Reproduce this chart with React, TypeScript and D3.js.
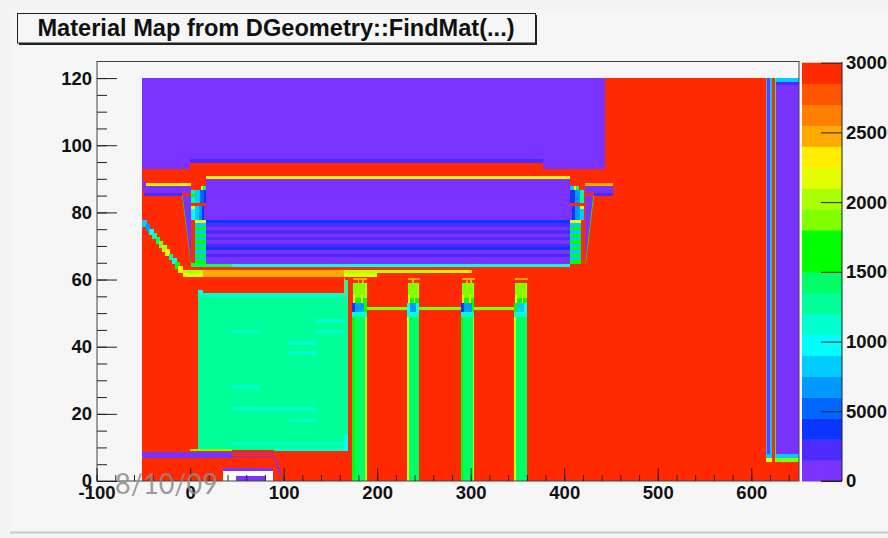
import * as React from 'react';
import * as d3 from 'd3';

type Block = [number, number, number, number, number]; // x0, x1, y0, y1, value

const width = 888;
const height = 538;

const paletteColors = [
  '#7a33ff', '#4d2bff', '#0a35ff', '#0066ff', '#0099ff', '#00ccff', '#00ffff', '#00ffcc', '#00ff99', '#00ff66',
  '#00ff00', '#00ff00', '#80ff00', '#aaff00', '#e6ff00', '#ffee00', '#ffaa00', '#ff8000', '#ff5500', '#ff2a00',
];
const xTicks = [-100, 0, 100, 200, 300, 400, 500, 600];
const yTicks = [0, 20, 40, 60, 80, 100, 120];
const zTicks = [0, 5000, 10000, 15000, 20000, 25000, 30000];

// big shapes, painted in this order
const baseBlocks: Block[] = [
  [-51, 651, 0, 120, 29250],
  [-51, 444, 92.9, 120, 750],
  [0, 377.5, 94.8, 95.9, 2250],
  [0, 377.5, 92.9, 94.8, 29250],
  [16.8, 406.4, 89.8, 90.8, 23250],
  [16.8, 406.4, 77.7, 89.8, 750],
  [-47.5, 1, 87.9, 88.8, 23250],
  [-47.5, 1, 85.9, 87.9, 750],
  [-49, -8.2, 84.9, 85.9, 2250],
  [422.5, 452, 87.9, 88.8, 24750],
  [422.5, 452, 85.9, 87.9, 750],
  [431.5, 452, 84.9, 85.9, 2250],
];

// rows of the stack under the big purple box, top to bottom
const stackRows = [3750, 2250, 750, 2250, 750, 2250, 750, 2250, 3750, 750, 2250, 750, 750];
const stackTop = 77.7;

// end pieces either side of the box
const sideBlocks: Block[] = [
  [14, 16.8, 86.7, 87.9, 14250],
  [12, 14, 86.7, 87.9, 23250],
  [1, 5.3, 82.8, 86.7, 12750],
  [1, 5.3, 84.6, 85.4, 15750],
  [5.3, 11, 82.8, 86.7, 8250],
  [11, 15, 82.8, 86.7, 5250],
  [15, 16.8, 82.8, 86.7, 3750],
  [1, 5, 77.7, 81.9, 9750],
  [1, 5, 80.9, 81.9, 21750],
  [5, 9.5, 77.7, 81.9, 8250],
  [9.5, 13, 77.7, 81.9, 6750],
  [13, 15, 77.7, 81.9, 3750],
  [15, 16.8, 77.7, 81.9, 750],
  [406.4, 408, 77.7, 81.9, 750],
  [408, 411, 77.7, 81.9, 3750],
  [411, 417, 77.7, 81.9, 6750],
  [417, 421, 77.7, 81.9, 8250],
  [417, 421, 80.9, 81.9, 21750],
  [406.4, 411, 82.8, 86.7, 3750],
  [411, 417, 82.8, 86.7, 6750],
  [417, 420.8, 82.8, 86.7, 12750],
  [406.4, 410, 86.7, 87.9, 8250],
  [410, 413, 86.7, 87.9, 23250],
  [413, 416, 86.7, 87.9, 14250],
  [1, 44.6, 63.8, 64.8, 14250],
  [44.6, 406.4, 63.8, 64.8, 9750],
];
const sideStripeValues = [21750, 8250, 15750, 8250, 15750, 8250, 15750, 8250, 15750, 8250, 15750, 8250, 15750];
const sideStripeLeft = [5.3, 406.4];
const sideStripeRight = [16.8, 417.8];

// the long plates at y about 60
const plateBlocks: Block[] = [
  [-7.5, 13.9, 61.9, 62.8, 20250],
  [-7.5, 13.9, 60.7, 61.9, 21750],
  [13.9, 164.7, 60.7, 62.8, 24750],
  [164.7, 258.8, 61.9, 62.8, 19500],
  [258.8, 301.3, 61.9, 62.8, 23250],
  [164.7, 200, 60.7, 61.9, 21750],
];

// the big green volume and its thin layers
const volumeBlocks: Block[] = [
  [8, 14, 54.9, 56.9, 9750],
  [8, 164.7, 54.9, 55.9, 11250],
  [8, 169, 9.2, 54.9, 12750],
  [164.7, 169, 54.9, 59.9, 11250],
  [164.7, 166, 54.9, 60.5, 24750],
  [133, 164.7, 47, 48.2, 11250],
  [44.6, 74.1, 44, 45, 11250],
  [133, 164.7, 44, 45, 11250],
  [104.5, 134.8, 40.5, 41.6, 11250],
  [104.5, 134.8, 37.6, 38.6, 11250],
  [44.6, 74.1, 27.5, 28.5, 11250],
  [44.6, 134.8, 20.8, 22, 11250],
  [104.5, 134.8, 17.5, 18.5, 11250],
  [44.6, 164.7, 10.6, 11.7, 11250],
  [89.8, 168, 9, 9.8, 11250],
  [164.7, 168.5, 9, 13.8, 9750],
  [0, 44.6, 8.8, 9.4, 18750],
  [-51, 44.6, 6.8, 8.7, 750],
  [44.6, 89.8, 8.2, 8.7, 750],
  [44.6, 89.8, 7, 7.5, 750],
  [35, 89, 3, 3.8, 750],
  [35, 89, 0, 3, -1],
  [49.2, 80.2, 0, 1.4, 750],
];

// the four packages
const packageLeft = [173.6, 232, 289.8, 346.2];
const packageRight = [188.6, 244.9, 304, 360.4];
const packageEdge = [15750, 21750, 15750, 21750];
const packageFarEdge = [20250, 14250, 20250, 14250];
const packageCoreLeft = [3750, 9750, 3750, 15750];
const packageCore = [6750, 6750, 6750, 8250];
const packageCoreRight = [15750, 9750, 15750, 9750];
const packageStems = [2, 1, 2, 0];

// the stepped diagonal at the left
const diagonalX = [-51, -47.5, -44, -40.5, -37, -33.5, -30, -26.5, -23, -19.5, -16, -12.5];
const diagonalY = [77.7, 76.5, 75.2, 74, 72.7, 71.5, 70.2, 69, 67.7, 66.5, 65.2, 64];
const diagonalValues = [8250, 6750, 9750, 12750, 14250, 18750, 20250, 21750, 12750, 9750, 15750, 23250];

// slanted pieces
const wedges: { points: [number, number][]; value: number }[] = [
  { points: [[-8.6, 84.9], [-7.6, 84.9], [1.2, 64.8], [0.6, 64.8]], value: 15750 },
  { points: [[-7.8, 84.9], [1, 84.9], [1, 65]], value: 750 },
  { points: [[430.6, 84.9], [431.8, 84.9], [423.2, 64.8], [422.4, 64.8]], value: 15750 },
  { points: [[422.5, 84.9], [430.8, 84.9], [422.5, 65]], value: 750 },
  { points: [[-51, 90.5], [-47.5, 88.8], [-47.5, 85.9], [-51, 85.9]], value: 750 },
  { points: [[89.8, 7], [91.5, 7], [98, 1.6], [96, 1.6]], value: 750 },
];

// far right columns
const rightBlocks: Block[] = [
  [615.3, 617, 6.8, 120, 8250],
  [617, 620.3, 8, 120, 750],
  [617, 620.3, 6.8, 8, 8250],
  [620.3, 622.1, 6.8, 120, 8250],
  [625.7, 626.7, 6.8, 120, 12750],
  [626.7, 651, 8, 120, 750],
  [626.7, 651, 118.8, 120, 8250],
  [626.7, 651, 117.9, 118.8, 2250],
  [626.7, 651, 6.8, 8, 8250],
  [625.7, 651, 5.7, 6.8, 18750],
  [615.3, 622.1, 5.7, 6.8, 21750],
];

function packageBlocks(): Block[] {
  const blocks: Block[] = [];
  packageLeft.forEach((x0, i) => {
    const x1 = packageRight[i];
    blocks.push([x0, x1, 0, 50, 14250]);
    blocks.push([x0, x0 + 2.2, 0, 50, packageEdge[i]]);
    blocks.push([x1 - 1.2, x1, 0, 50, packageFarEdge[i]]);
    blocks.push([x0, x1, 48.9, 50.2, 11250]);
    blocks.push([x0 + 1, x1, 54.4, 59, 18750]);
    blocks.push([x1 - 1.4, x1, 54.4, 59, 20250]);
    blocks.push([x0 + 1, x1, 52.9, 54.4, 15750]);
    blocks.push([x0 + 1, x0 + 3, 52.9, 55.4, 23250]);
    blocks.push([x1 - 6, x1 - 4, 52.9, 55.4, 23250]);
    blocks.push([x0, x0 + 3, 50.2, 52.9, packageCoreLeft[i]]);
    blocks.push([x0 + 3, x1 - 3, 50.2, 52.9, packageCore[i]]);
    blocks.push([x1 - 3, x1, 50.2, 52.9, packageCoreRight[i]]);
    blocks.push([x0 + 1, x1 + 0.5, 60, 60.5, 24750]);
    if (packageStems[i] > 0) blocks.push([x0 + 5.5, x0 + 7, 59, 60, 24750]);
    if (packageStems[i] > 1) blocks.push([x1 - 4.5, x1 - 3, 59, 60, 24750]);
    if (i < packageLeft.length - 1) blocks.push([x1, packageLeft[i + 1], 50.9, 51.9, 19000]);
  });
  return blocks;
}

function stackBlocks(): Block[] {
  const blocks: Block[] = [];
  stackRows.forEach((value, i) => {
    blocks.push([16.8, 406.4, stackTop - i - 1, stackTop - i, value]);
  });
  sideStripeLeft.forEach((x0, s) => {
    sideStripeValues.forEach((value, i) => {
      blocks.push([x0, sideStripeRight[s], stackTop - i - 1, stackTop - i, value]);
    });
  });
  return blocks;
}

function diagonalBlocks(): Block[] {
  return diagonalValues.map((value, i): Block => [
    diagonalX[i], diagonalX[i] + 5, diagonalY[i] - 2, diagonalY[i], value,
  ]);
}

const App = () => {
  const ref = React.useRef<SVGSVGElement>(null);

  React.useEffect(() => {
    const svg = d3.select(ref.current);
    svg.selectAll('*').remove();

    const x = d3.scaleLinear().domain([-100, 651]).range([96.6, 799]);
    const y = d3.scaleLinear().domain([0, 125]).range([481, 61.3]);
    const z = d3.scaleLinear().domain([0, 30000]).range([481, 62.7]);
    const color = d3.scaleQuantize<string>().domain([0, 30000]).range(paletteColors);

    svg.append('defs').append('filter')
      .attr('id', 'soft')
      .append('feGaussianBlur')
      .attr('stdDeviation', 0.5);

    svg.append('rect').attr('width', width).attr('height', height).attr('fill', '#f4f4f4');
    svg.append('rect').attr('x', 10).attr('y', 10).attr('width', width - 10).attr('height', 522).attr('fill', '#f6f6f6');
    svg.append('line').attr('x1', 10).attr('x2', width).attr('y1', 532.5).attr('y2', 532.5).attr('stroke', '#c8c8c8').attr('stroke-width', 2);

    const blocks: Block[] = [
      ...baseBlocks,
      ...sideBlocks,
      ...stackBlocks(),
      ...plateBlocks,
      ...volumeBlocks,
      ...packageBlocks(),
      ...diagonalBlocks(),
      ...rightBlocks,
    ];

    const plot = svg.append('g').attr('filter', 'url(#soft)');
    plot.selectAll('rect')
      .data(blocks)
      .join('rect')
      .attr('shape-rendering', 'crispEdges')
      .attr('x', d => x(d[0]))
      .attr('width', d => x(d[1]) - x(d[0]))
      .attr('y', d => y(d[3]))
      .attr('height', d => y(d[2]) - y(d[3]))
      .attr('fill', d => (d[4] < 0 ? '#ffffff' : color(d[4])));

    plot.selectAll('polygon')
      .data(wedges)
      .join('polygon')
      .attr('points', d => d.points.map(p => `${x(p[0])},${y(p[1])}`).join(' '))
      .attr('fill', d => color(d.value));

    // frame
    svg.append('rect')
      .attr('x', 97).attr('y', 61.5).attr('width', 702).attr('height', 419.5)
      .attr('fill', 'none').attr('stroke', '#444');

    const styleAxis = (g: d3.Selection<SVGGElement, unknown, null, undefined>) => {
      g.select('.domain').remove();
      g.selectAll('text')
        .attr('font-family', '"Liberation Sans", sans-serif')
        .attr('font-weight', 'bold')
        .attr('font-size', 18.5)
        .attr('fill', '#111');
      g.selectAll('line').attr('stroke', '#222');
    };

    svg.append('g')
      .attr('transform', 'translate(0,481)')
      .call(d3.axisBottom(x).tickValues(xTicks).tickSize(-13).tickPadding(5).tickFormat(d => String(d)))
      .call(styleAxis);
    svg.append('g')
      .attr('transform', 'translate(0,481)')
      .call(d3.axisBottom(x).tickValues(d3.range(-100, 650, 20)).tickSize(-6).tickFormat(() => ''))
      .call(styleAxis);
    svg.append('g')
      .attr('transform', 'translate(97,0)')
      .call(d3.axisLeft(y).tickValues(yTicks).tickSize(-20).tickPadding(5).tickFormat(d => String(d)))
      .call(styleAxis);
    svg.append('g')
      .attr('transform', 'translate(97,0)')
      .call(d3.axisLeft(y).tickValues(d3.range(0, 121, 5)).tickSize(-10).tickFormat(() => ''))
      .call(styleAxis);

    // colour bar
    const bandHeight = (z(0) - z(30000)) / paletteColors.length;
    svg.append('rect').attr('x', 801).attr('y', 62).attr('width', 1.5).attr('height', 419).attr('fill', '#ffffff');
    svg.append('g').selectAll('rect')
      .data(paletteColors)
      .join('rect')
      .attr('x', 802)
      .attr('width', 40)
      .attr('y', (_, i) => z(0) - (i + 1) * bandHeight)
      .attr('height', bandHeight + 0.5)
      .attr('fill', d => d);
    svg.append('line').attr('x1', 842).attr('x2', 842).attr('y1', 62).attr('y2', 481).attr('stroke', '#222');
    svg.append('line').attr('x1', 821).attr('x2', 842).attr('y1', 481).attr('y2', 481).attr('stroke', '#222');
    svg.append('g')
      .attr('transform', 'translate(842,0)')
      .call(d3.axisRight(z).tickValues(zTicks).tickSize(-21).tickPadding(4).tickFormat(d => String(d)))
      .call(styleAxis);

    // title box
    svg.append('rect').attr('x', 19).attr('y', 15).attr('width', 518).attr('height', 30).attr('fill', '#222');
    svg.append('rect')
      .attr('x', 17.5).attr('y', 13.5).attr('width', 518).attr('height', 29.5)
      .attr('fill', '#f6f6f6').attr('stroke', '#222');
    svg.append('text')
      .attr('x', 276).attr('y', 35.5)
      .attr('text-anchor', 'middle')
      .attr('font-family', '"Liberation Sans", sans-serif')
      .attr('font-weight', 'bold')
      .attr('font-size', 23.6)
      .attr('fill', '#111')
      .text('Material Map from DGeometry::FindMat(...)');

    svg.append('text')
      .attr('x', 115).attr('y', 494)
      .attr('font-family', 'Lato, sans-serif')
      .attr('font-size', 29)
      .attr('textLength', 103)
      .attr('lengthAdjust', 'spacingAndGlyphs')
      .attr('fill', '#8a8a8a')
      .attr('fill-opacity', 0.85)
      .text('8/10/09');
  }, []);

  return <svg ref={ref} width={width} height={height} style={{ position: 'absolute', left: 0, top: 0 }} />;
};

export default App;
